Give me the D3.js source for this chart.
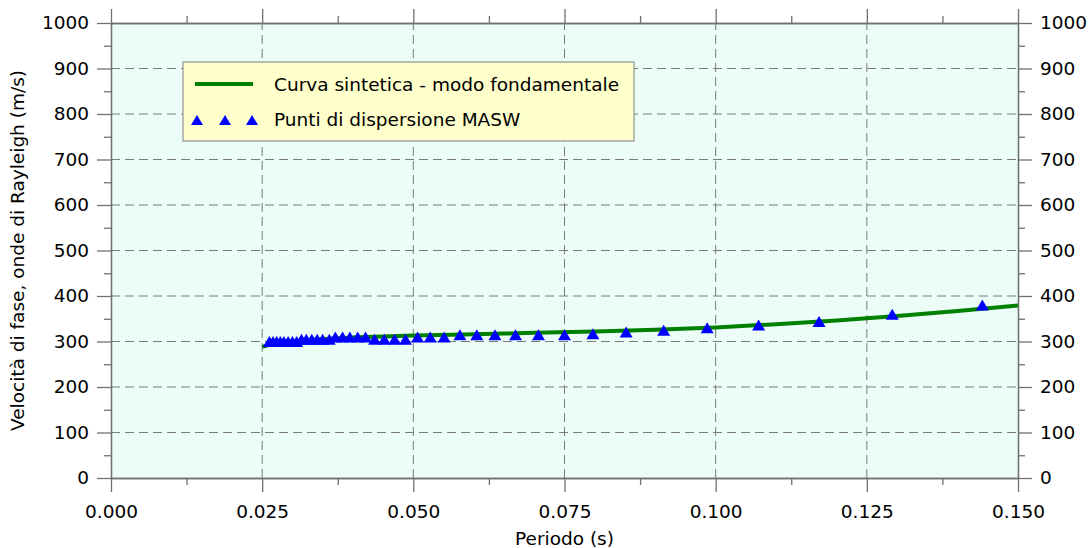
<!DOCTYPE html>
<html><head><meta charset="utf-8">
<script src="https://cdn.jsdelivr.net/npm/d3@7/dist/d3.min.js"></script>
<style>
html,body{margin:0;padding:0;background:#fff;}
text{font-family:"DejaVu Sans",sans-serif;font-size:18.5px;fill:#000;}
</style></head><body>
<svg id="c" width="1089" height="548"></svg>
<script>
// ---- data ----
const curvePeriod = [0.025, 0.026, 0.0275, 0.030, 0.0325, 0.035, 0.040, 0.045, 0.050, 0.060, 0.070, 0.080, 0.090, 0.100, 0.110, 0.120, 0.130, 0.140, 0.150];
const curveVelocity = [288, 292, 296, 300, 303, 305, 309, 311, 313, 316, 319, 322, 326, 331, 338, 346, 356, 367, 379];
const pointPeriod = [0.0262, 0.0268, 0.0274, 0.0280, 0.0286, 0.0293, 0.0300, 0.0307,
  0.0315, 0.0323, 0.0332, 0.0341, 0.0350, 0.0361,
  0.0371, 0.0383, 0.0395, 0.0408, 0.0421,
  0.0436, 0.0452, 0.0469, 0.0487,
  0.0507, 0.0528, 0.0551,
  0.0577, 0.0605, 0.0635, 0.0669, 0.0707, 0.0750,
  0.0797, 0.0852, 0.0914, 0.0986, 0.1071, 0.1171, 0.1292, 0.1441];
const pointVelocity = [300, 300, 300, 300, 300, 300, 300, 300,
  305, 305, 305, 305, 305, 305,
  310, 310, 310, 310, 310,
  305, 305, 305, 305,
  310, 310, 310,
  315, 315, 315, 315, 315, 315,
  317, 321, 325, 330, 336, 344, 360, 380];
const xTicks = [0, 0.025, 0.05, 0.075, 0.1, 0.125, 0.15];
const xMinorTicks = [0.0125, 0.0375, 0.0625, 0.0875, 0.1125, 0.1375];
const yTicks = [0, 100, 200, 300, 400, 500, 600, 700, 800, 900, 1000];
const yMinorTicks = [50, 150, 250, 350, 450, 550, 650, 750, 850, 950];
const legendLabels = ["Curva sintetica - modo fondamentale", "Punti di dispersione MASW"];
const xTitle = "Periodo (s)";
const yTitle = "Velocità di fase, onde di Rayleigh (m/s)";

// ---- layout ----
const W = 1089, H = 548;
const m = {left: 111, right: 71, top: 23, bottom: 70};
const svg = d3.select("#c");
const x = d3.scaleLinear().domain([0, 0.15]).range([m.left, W - m.right]);
const y = d3.scaleLinear().domain([0, 1000]).range([H - m.bottom, m.top]);
const axisColor = "#707070";

svg.append("rect").attr("x", x(0)).attr("y", y(1000))
  .attr("width", x(0.15) - x(0)).attr("height", y(0) - y(1000))
  .attr("fill", "#EBFDF6");

// grid
const grid = svg.append("g").attr("stroke", "#7a7a7a").attr("stroke-dasharray", "9,5").attr("stroke-width", 1);
grid.selectAll(".gx").data(xTicks.slice(1, -1)).join("line")
  .attr("x1", d => x(d)).attr("x2", d => x(d)).attr("y1", y(0)).attr("y2", y(1000));
grid.selectAll(".gy").data(yTicks.slice(1, -1)).join("line")
  .attr("y1", d => y(d)).attr("y2", d => y(d)).attr("x1", x(0)).attr("x2", x(0.15));

function styleAxis(g) {
  g.selectAll("path.domain").attr("stroke", axisColor).attr("stroke-width", 1.3);
  g.selectAll(".tick line").attr("stroke", axisColor).attr("stroke-width", 1.3);
  g.selectAll("text").attr("font-family", "DejaVu Sans").attr("font-size", 18.5).attr("fill", "#000");
}
const fmt = d3.format(".3f");
// bottom
svg.append("g").attr("transform", `translate(0,${y(0)})`)
  .call(d3.axisBottom(x).tickValues(xTicks).tickFormat(fmt).tickSize(14).tickSizeOuter(0).tickPadding(13))
  .call(styleAxis);
svg.append("g").attr("transform", `translate(0,${y(0)})`)
  .call(d3.axisBottom(x).tickValues(xMinorTicks).tickFormat("").tickSize(7).tickSizeOuter(0))
  .call(styleAxis);
// top
svg.append("g").attr("transform", `translate(0,${y(1000)})`)
  .call(d3.axisTop(x).tickValues(xTicks).tickFormat("").tickSize(14).tickSizeOuter(0))
  .call(styleAxis);
svg.append("g").attr("transform", `translate(0,${y(1000)})`)
  .call(d3.axisTop(x).tickValues(xMinorTicks).tickFormat("").tickSize(7).tickSizeOuter(0))
  .call(styleAxis);
// left
svg.append("g").attr("transform", `translate(${x(0)},0)`)
  .call(d3.axisLeft(y).tickValues(yTicks).tickFormat(d3.format("d")).tickSize(14).tickSizeOuter(0).tickPadding(8))
  .call(styleAxis);
svg.append("g").attr("transform", `translate(${x(0)},0)`)
  .call(d3.axisLeft(y).tickValues(yMinorTicks).tickFormat("").tickSize(7).tickSizeOuter(0))
  .call(styleAxis);
// right
svg.append("g").attr("transform", `translate(${x(0.15)},0)`)
  .call(d3.axisRight(y).tickValues(yTicks).tickFormat(d3.format("d")).tickSize(14).tickSizeOuter(0).tickPadding(8))
  .call(styleAxis);
svg.append("g").attr("transform", `translate(${x(0.15)},0)`)
  .call(d3.axisRight(y).tickValues(yMinorTicks).tickFormat("").tickSize(7).tickSizeOuter(0))
  .call(styleAxis);

// curve
const curveData = curvePeriod.map((p, i) => [p, curveVelocity[i]]);
svg.append("path").datum(curveData)
  .attr("d", d3.line().x(d => x(d[0])).y(d => y(d[1])).curve(d3.curveMonotoneX))
  .attr("fill", "none").attr("stroke", "#008000").attr("stroke-width", 4);

// points
const tri = (w, h) => `M0,${-h/2}L${w/2},${h/2}L${-w/2},${h/2}Z`;
svg.append("g").selectAll("path").data(pointPeriod.map((p, i) => [p, pointVelocity[i]])).join("path")
  .attr("transform", d => `translate(${x(d[0])},${y(d[1])})`)
  .attr("d", tri(13, 11)).attr("fill", "#0000FF");

// legend
const lg = svg.append("g");
lg.append("rect").attr("x", 183).attr("y", 62).attr("width", 451).attr("height", 79)
  .attr("fill", "#FFFFCC").attr("stroke", "#9a9a9a").attr("stroke-width", 1.3);
lg.append("line").attr("x1", 195).attr("x2", 253).attr("y1", 84).attr("y2", 84)
  .attr("stroke", "#008000").attr("stroke-width", 4);
[197, 225, 252].forEach(cx => lg.append("path").attr("transform", `translate(${cx},120)`)
  .attr("d", tri(12, 10)).attr("fill", "#0000FF"));
lg.append("text").attr("x", 274).attr("y", 91).text(legendLabels[0]);
lg.append("text").attr("x", 274).attr("y", 126).text(legendLabels[1]);

// titles
svg.append("text").attr("x", x(0.075)).attr("y", 545).attr("text-anchor", "middle").text(xTitle);
svg.append("text").attr("transform", `translate(24,${(y(0) + y(1000)) / 2}) rotate(-90)`)
  .attr("text-anchor", "middle").text(yTitle);
</script>
</body></html>
